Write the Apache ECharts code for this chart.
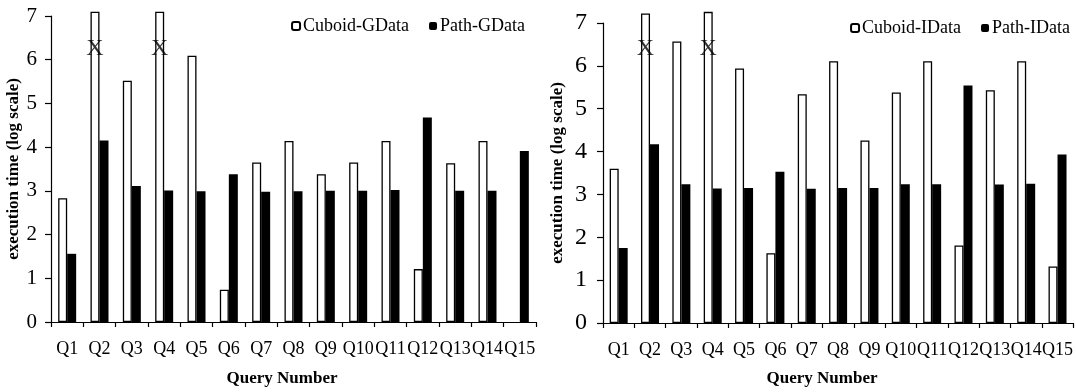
<!DOCTYPE html>
<html>
<head>
<meta charset="utf-8">
<script src="https://cdn.jsdelivr.net/npm/echarts@6/dist/echarts.min.js"></script>
<style>
  html, body { margin: 0; padding: 0; background: #fff; }
  #chart { width: 1076px; height: 392px; }
</style>
</head>
<body>
<div id="chart"></div>
<script>
// ===== data =====
const queries = ['Q1', 'Q2', 'Q3', 'Q4', 'Q5', 'Q6', 'Q7', 'Q8', 'Q9', 'Q10', 'Q11', 'Q12', 'Q13', 'Q14', 'Q15']
const yTicks = [0, 1, 2, 3, 4, 5, 6, 7]

const cuboidGData = [2.83, 7.1, 5.52, 7.1, 6.09, 0.74, 3.65, 4.14, 3.38, 3.65, 4.14, 1.21, 3.63, 4.14, null]
const pathGData = [1.56, 4.15, 3.11, 3.01, 2.99, 3.38, 2.98, 2.99, 3.0, 3.0, 3.02, 4.68, 3.0, 3.0, 3.91]
const timeoutG = [['Q2', 6.26], ['Q4', 6.26]]

const cuboidIData = [3.6, 7.22, 6.57, 7.26, 5.94, 1.63, 5.34, 6.11, 4.26, 5.38, 6.11, 1.81, 5.43, 6.11, 1.32]
const pathIData = [1.75, 4.17, 3.24, 3.14, 3.15, 3.53, 3.13, 3.15, 3.15, 3.24, 3.24, 5.54, 3.23, 3.25, 3.93]
const timeoutI = [['Q2', 6.4], ['Q4', 6.4]]

const FONT = 'Liberation Serif'

function xAxisFor(gridIndex) {
  return {
    type: 'category',
    gridIndex,
    data: queries,
    axisLine: { lineStyle: { color: '#000', width: 1.2 } },
    axisTick: { show: true, length: 5, lineStyle: { color: '#000', width: 1.2 } },
    axisLabel: { color: '#000', fontFamily: FONT, fontSize: 18, margin: 18, interval: 0 }
  }
}

function yAxisFor(gridIndex, fontSize, margin, nameGap) {
  return {
    type: 'value',
    gridIndex,
    min: yTicks[0],
    max: yTicks[yTicks.length - 1],
    interval: 1,
    name: 'execution time (log scale)',
    nameLocation: 'middle',
    nameGap,
    nameTextStyle: { color: '#000', fontFamily: FONT, fontSize: 17, fontWeight: 'bold' },
    axisLine: { show: true, lineStyle: { color: '#000', width: 1.2 } },
    axisTick: { show: true, length: 6, lineStyle: { color: '#000', width: 1.2 } },
    axisLabel: { color: '#000', fontFamily: FONT, fontSize, margin },
    splitLine: { show: false }
  }
}

function barsFor(idx, whiteName, blackName, whiteData, blackData, marks) {
  return [
    {
      name: whiteName,
      type: 'bar',
      xAxisIndex: idx,
      yAxisIndex: idx,
      barWidth: 9,
      barGap: '0%',
      clip: false,
      itemStyle: { color: '#fff', borderColor: '#000', borderWidth: 1.3 },
      data: whiteData
    },
    {
      name: blackName,
      type: 'bar',
      xAxisIndex: idx,
      yAxisIndex: idx,
      barWidth: 9,
      clip: false,
      itemStyle: { color: '#000' },
      data: blackData
    },
    {
      // timeout marks on the cuboid bars
      type: 'scatter',
      xAxisIndex: idx,
      yAxisIndex: idx,
      symbolSize: 0.1,
      itemStyle: { color: 'transparent' },
      label: {
        show: true,
        position: 'inside',
        formatter: 'X',
        offset: [-4.5, 0],
        color: '#000',
        fontFamily: FONT,
        fontSize: 24
      },
      data: marks,
      z: 5
    }
  ]
}

const chart = echarts.init(document.getElementById('chart'))

chart.setOption({
  animation: false,
  backgroundColor: '#fff',
  textStyle: { fontFamily: FONT },
  grid: [
    { left: 51, right: 540, top: 16, bottom: 70 },
    { left: 603, right: 2, top: 23, bottom: 69 }
  ],
  legend: [
    {
      data: ['Cuboid-GData', 'Path-GData'],
      right: 546,
      top: 12,
      itemWidth: 8,
      itemHeight: 8,
      itemGap: 20,
      textStyle: { color: '#000', fontFamily: FONT, fontSize: 18, padding: [0, 0, 0, -2] }
    },
    {
      data: ['Cuboid-IData', 'Path-IData'],
      right: 1,
      top: 14,
      itemWidth: 8,
      itemHeight: 8,
      itemGap: 20,
      textStyle: { color: '#000', fontFamily: FONT, fontSize: 18, padding: [0, 0, 0, -2] }
    }
  ],
  xAxis: [xAxisFor(0), xAxisFor(1)],
  yAxis: [yAxisFor(0, 21, 14, 27), yAxisFor(1, 24, 16, 37)],
  graphic: [
    {
      type: 'text',
      x: 282,
      y: 379,
      style: { text: 'Query Number', fontFamily: FONT, fontSize: 17, fontWeight: 'bold', fill: '#000', align: 'center', verticalAlign: 'middle' }
    },
    {
      type: 'text',
      x: 822,
      y: 379,
      style: { text: 'Query Number', fontFamily: FONT, fontSize: 17, fontWeight: 'bold', fill: '#000', align: 'center', verticalAlign: 'middle' }
    }
  ],
  series: [
    ...barsFor(0, 'Cuboid-GData', 'Path-GData', cuboidGData, pathGData, timeoutG),
    ...barsFor(1, 'Cuboid-IData', 'Path-IData', cuboidIData, pathIData, timeoutI)
  ]
})
</script>
</body>
</html>
